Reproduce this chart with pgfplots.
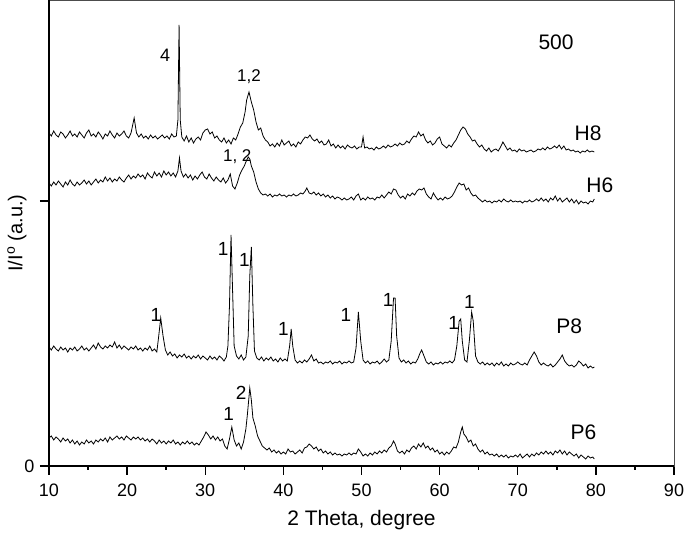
\documentclass[border=0pt]{standalone}
\usepackage{pgfplots}
\pgfplotsset{compat=1.18}
\usepackage{fontspec}
\setmainfont{Liberation Sans}
\newcommand\fs[1]{\fontsize{#1}{#1}\selectfont}
\pgfplotsset{xrd/.style={black, line width=0.8pt, mark=none}}

\begin{document}
\begin{tikzpicture}
\begin{axis}[
    scale only axis,
    width=625pt, height=466pt,
    xmin=10, xmax=90, ymin=0, ymax=466,
    xtick={10,20,...,90},
    minor xtick={15,25,...,85},
    ytick={0,265}, yticklabels={0,{}},
    tick align=outside,
    xtick pos=bottom, ytick pos=left,
    major tick length=9pt, minor tick length=4pt,
    tick style={black, line width=1.4pt},
    axis line style={line width=0.8pt, black!70},
    /pgf/number format/assume math mode=true,
    ticklabel style={font=\fs{18}},
    xticklabel style={yshift=-5pt},
    yticklabel style={xshift=-2pt},
    xlabel={2 Theta, degree},
    ylabel={I/I\textsuperscript{o} (a.u.)},
    xlabel style={font=\fs{21}, at={(axis description cs:0.5,0)}, anchor=center, yshift=-54pt},
    ylabel style={font=\fs{20}, at={(axis description cs:0,0.5)}, anchor=center, yshift=32pt},
    clip=false,
]
% H8
\addplot[xrd] coordinates {
(10.0,333) (10.3,330) (10.6,335) (10.9,331) (11.2,329) (11.5,334) (11.8,332) (12.1,328) (12.4,331) (12.7,335)
(13.0,330) (13.3,332) (13.6,329) (13.9,334) (14.2,331) (14.5,328) (14.8,333) (15.1,336) (15.4,330) (15.7,332)
(16.0,329) (16.3,334) (16.6,331) (16.9,327) (17.2,332) (17.5,330) (17.8,335) (18.1,331) (18.4,328) (18.7,333)
(19.0,330) (19.3,332) (19.6,335) (19.9,330) (20.2,328) (20.5,333) (20.9,348) (21.2,333) (21.5,329) (21.8,332)
(22.1,328) (22.4,330) (22.7,327) (23.0,331) (23.3,328) (23.6,330) (23.9,327) (24.2,329) (24.5,331) (24.8,328)
(25.1,330) (25.4,327) (25.7,332) (26.0,329) (26.3,330) (26.5,346) (26.65,441) (26.8,346) (27.0,329) (27.3,325)
(27.6,330) (27.9,324) (28.2,328) (28.5,323) (28.8,327) (29.1,329) (29.4,326) (29.7,333) (30.0,336) (30.3,337)
(30.6,332) (30.9,334) (31.2,328) (31.5,330) (31.8,326) (32.1,324) (32.4,328) (32.7,323) (33.0,326) (33.3,322)
(33.6,328) (33.9,326) (34.2,332) (34.5,339) (34.8,343) (35.1,354) (35.3,366) (35.6,374) (35.9,364) (36.2,356)
(36.5,344) (36.8,336) (37.1,338) (37.4,330) (37.7,326) (38.0,324) (38.3,320) (38.6,322) (38.9,319) (39.2,323)
(39.5,320) (39.8,326) (40.1,321) (40.4,323) (40.7,325) (41.0,320) (41.3,322) (41.6,319) (41.9,324) (42.2,322)
(42.5,326) (42.8,329) (43.1,328) (43.4,331) (43.7,327) (44.0,325) (44.3,327) (44.6,323) (44.9,325) (45.2,321)
(45.5,322) (45.8,326) (46.1,320) (46.4,322) (46.7,318) (47.0,321) (47.3,318) (47.6,320) (47.9,317) (48.2,321)
(48.5,319) (48.8,318) (49.1,320) (49.4,317) (49.7,319) (50.0,319) (50.2,329) (50.4,318) (50.7,319) (51.0,317)
(51.3,318) (51.6,316) (51.9,319) (52.2,317) (52.5,318) (52.8,320) (53.1,318) (53.4,321) (53.7,319) (54.0,320)
(54.3,322) (54.6,320) (54.9,323) (55.2,321) (55.5,322) (55.8,325) (56.1,323) (56.4,327) (56.7,330) (57.0,329)
(57.3,334) (57.6,330) (57.9,332) (58.2,326) (58.5,323) (58.8,325) (59.1,321) (59.4,323) (59.7,327) (60.0,329)
(60.3,322) (60.6,320) (60.9,318) (61.2,321) (61.5,319) (61.8,323) (62.1,326) (62.4,331) (62.7,336) (63.0,339)
(63.3,337) (63.6,332) (63.9,329) (64.2,325) (64.5,326) (64.8,322) (65.1,319) (65.4,321) (65.7,317) (66.0,315)
(66.3,318) (66.6,314) (66.9,316) (67.2,317) (67.5,315) (67.8,319) (68.1,324) (68.4,320) (68.7,316) (69.0,318)
(69.3,315) (69.6,316) (69.9,314) (70.2,317) (70.5,315) (70.8,316) (71.1,314) (71.4,315) (71.7,316) (72.0,314)
(72.3,315) (72.6,317) (72.9,316) (73.2,318) (73.5,316) (73.8,319) (74.1,317) (74.4,318) (74.7,320) (75.0,318)
(75.3,321) (75.6,317) (75.9,320) (76.2,316) (76.5,317) (76.8,315) (77.1,316) (77.4,314) (77.7,315) (78.0,313)
(78.3,315) (78.6,314) (78.9,316) (79.2,314) (79.5,315) (79.8,314)
};
% H6
\addplot[xrd] coordinates {
(10.0,283) (10.3,280) (10.6,284) (10.9,281) (11.2,285) (11.5,282) (11.8,279) (12.1,284) (12.4,281) (12.7,286)
(13.0,282) (13.3,280) (13.6,284) (13.9,281) (14.2,283) (14.5,286) (14.8,282) (15.1,285) (15.4,281) (15.7,284)
(16.0,287) (16.3,283) (16.6,286) (16.9,284) (17.2,289) (17.5,285) (17.8,288) (18.1,284) (18.4,287) (18.7,285)
(19.0,289) (19.3,286) (19.6,284) (19.9,288) (20.2,291) (20.5,287) (20.8,290) (21.1,288) (21.4,292) (21.7,289)
(22.0,291) (22.3,287) (22.6,293) (22.9,290) (23.2,288) (23.5,294) (23.8,290) (24.1,293) (24.4,289) (24.7,295)
(25.0,291) (25.3,294) (25.6,290) (25.9,293) (26.2,289) (26.5,295) (26.7,308) (26.9,295) (27.2,289) (27.5,292)
(27.8,288) (28.1,291) (28.4,286) (28.7,290) (29.0,287) (29.3,291) (29.6,294) (29.9,289) (30.2,287) (30.5,292)
(30.8,288) (31.1,285) (31.4,289) (31.7,286) (32.0,284) (32.3,288) (32.6,283) (32.9,286) (33.2,292) (33.5,280)
(33.8,277) (34.1,283) (34.4,291) (34.7,296) (35.0,300) (35.2,304) (35.5,309) (35.7,307) (35.9,300) (36.2,294)
(36.5,284) (36.8,277) (37.1,273) (37.4,271) (37.7,272) (38.0,270) (38.3,272) (38.6,269) (38.9,271) (39.2,270)
(39.5,272) (39.8,270) (40.1,271) (40.4,269) (40.7,271) (41.0,270) (41.3,272) (41.6,270) (41.9,271) (42.2,273)
(42.5,272) (42.8,275) (43.0,278) (43.3,273) (43.6,272) (43.9,274) (44.2,271) (44.5,273) (44.8,270) (45.1,272)
(45.4,269) (45.7,271) (46.0,268) (46.3,270) (46.6,267) (46.9,269) (47.2,268) (47.5,266) (47.8,268) (48.1,266)
(48.4,267) (48.7,269) (49.0,266) (49.3,270) (49.6,272) (49.9,266) (50.2,268) (50.5,266) (50.8,269) (51.1,267)
(51.4,268) (51.7,266) (52.0,269) (52.3,268) (52.6,271) (52.9,268) (53.2,271) (53.5,274) (53.8,272) (54.1,277)
(54.4,276) (54.7,271) (55.0,268) (55.3,270) (55.6,267) (55.9,272) (56.2,270) (56.5,273) (56.8,271) (57.1,275)
(57.4,277) (57.7,276) (58.0,278) (58.3,272) (58.6,269) (58.9,267) (59.2,273) (59.5,269) (59.8,266) (60.1,268)
(60.4,266) (60.7,269) (61.0,267) (61.3,268) (61.6,270) (61.9,274) (62.2,279) (62.5,283) (62.8,281) (63.1,282)
(63.4,276) (63.7,278) (64.0,273) (64.3,270) (64.6,271) (64.9,268) (65.2,266) (65.5,264) (65.8,266) (66.1,264)
(66.4,265) (66.7,263) (67.0,265) (67.3,264) (67.6,266) (67.9,264) (68.2,267) (68.5,265) (68.8,264) (69.1,266)
(69.4,264) (69.7,265) (70.0,264) (70.3,265) (70.6,263) (70.9,265) (71.2,264) (71.5,266) (71.8,264) (72.1,265)
(72.4,267) (72.7,265) (73.0,268) (73.3,265) (73.6,267) (73.9,264) (74.2,268) (74.5,266) (74.8,270) (75.1,265)
(75.4,268) (75.7,264) (76.0,266) (76.3,268) (76.6,264) (76.9,267) (77.2,263) (77.5,266) (77.8,262) (78.1,265)
(78.4,263) (78.7,264) (79.0,262) (79.3,265) (79.6,264) (79.8,267)
};
% P8
\addplot[xrd] coordinates {
(10.0,119) (10.3,116) (10.6,120) (10.9,117) (11.2,115) (11.5,119) (11.8,116) (12.1,118) (12.4,114) (12.7,118)
(13.0,116) (13.3,119) (13.6,115) (13.9,117) (14.2,120) (14.5,116) (14.8,118) (15.1,115) (15.4,118) (15.7,121)
(16.0,117) (16.3,123) (16.6,119) (16.9,117) (17.2,120) (17.5,118) (17.8,121) (18.1,119) (18.4,124) (18.7,118)
(19.0,121) (19.3,117) (19.6,120) (19.9,118) (20.2,116) (20.5,119) (20.8,117) (21.1,120) (21.4,116) (21.7,118)
(22.0,115) (22.3,118) (22.6,116) (22.9,120) (23.2,115) (23.5,117) (23.8,114) (24.0,127) (24.3,148) (24.6,130)
(24.9,116) (25.2,111) (25.5,114) (25.8,110) (26.1,112) (26.4,108) (26.7,111) (27.0,109) (27.3,112) (27.6,108)
(27.9,110) (28.2,107) (28.5,110) (28.8,108) (29.1,111) (29.4,107) (29.7,110) (30.0,108) (30.3,106) (30.6,110)
(30.9,107) (31.2,109) (31.5,106) (31.8,110) (32.1,108) (32.4,105) (32.7,109) (32.9,120) (33.1,160) (33.3,231)
(33.5,175) (33.7,120) (34.0,110) (34.3,107) (34.6,111) (34.9,106) (35.2,109) (35.5,130) (35.7,190) (35.9,219)
(36.1,160) (36.3,115) (36.6,108) (36.9,106) (37.2,109) (37.5,105) (37.8,108) (38.1,106) (38.4,109) (38.7,105)
(39.0,107) (39.3,104) (39.6,108) (39.9,105) (40.2,107) (40.5,105) (40.8,120) (41.0,137) (41.2,120) (41.5,106)
(41.8,103) (42.1,105) (42.4,103) (42.7,106) (43.0,104) (43.3,107) (43.6,111) (43.9,105) (44.2,107) (44.5,103)
(44.8,104) (45.1,102) (45.4,104) (45.7,103) (46.0,105) (46.3,102) (46.6,104) (46.9,103) (47.2,105) (47.5,102)
(47.8,104) (48.1,103) (48.4,105) (48.7,103) (49.0,104) (49.3,118) (49.6,154) (49.9,125) (50.2,106) (50.5,103)
(50.8,105) (51.1,102) (51.4,104) (51.7,103) (52.0,105) (52.3,102) (52.6,104) (52.9,107) (53.2,104) (53.5,106)
(53.8,125) (54.1,168) (54.3,168) (54.5,130) (54.8,108) (55.1,104) (55.4,106) (55.7,103) (56.0,105) (56.3,102)
(56.6,104) (56.9,103) (57.2,107) (57.5,113) (57.7,116) (58.0,110) (58.3,104) (58.6,102) (58.9,104) (59.2,101)
(59.5,103) (59.8,102) (60.1,104) (60.4,102) (60.7,104) (61.0,103) (61.3,105) (61.6,103) (61.9,106) (62.2,120)
(62.5,145) (62.7,147) (62.9,125) (63.2,106) (63.5,104) (63.8,125) (64.1,154) (64.3,145) (64.6,110) (64.9,104)
(65.2,102) (65.5,104) (65.8,101) (66.1,103) (66.4,101) (66.7,103) (67.0,100) (67.3,103) (67.6,101) (67.9,104)
(68.2,100) (68.5,102) (68.8,100) (69.1,103) (69.4,101) (69.7,102) (70.0,104) (70.3,102) (70.6,101) (70.9,103)
(71.2,101) (71.5,106) (71.8,110) (72.1,114) (72.4,110) (72.7,104) (73.0,101) (73.3,103) (73.6,101) (73.9,100)
(74.2,102) (74.5,99) (74.8,101) (75.1,104) (75.4,107) (75.7,111) (76.0,105) (76.3,102) (76.6,100) (76.9,101)
(77.2,99) (77.5,101) (77.8,105) (78.1,103) (78.4,100) (78.7,102) (79.0,98) (79.3,100) (79.6,98) (79.8,99)
};
% P6
\addplot[xrd] coordinates {
(10.0,28) (10.3,30) (10.6,26) (10.9,29) (11.2,27) (11.5,24) (11.8,28) (12.1,25) (12.4,27) (12.7,23)
(13.0,26) (13.3,22) (13.6,25) (13.9,21) (14.2,24) (14.5,22) (14.8,26) (15.1,23) (15.4,25) (15.7,22)
(16.0,26) (16.3,24) (16.6,27) (16.9,25) (17.2,28) (17.5,24) (17.8,29) (18.1,26) (18.4,28) (18.7,30)
(19.0,27) (19.3,29) (19.6,26) (19.9,30) (20.2,28) (20.5,26) (20.8,29) (21.1,27) (21.4,29) (21.7,26)
(22.0,28) (22.3,25) (22.6,27) (22.9,24) (23.2,27) (23.5,25) (23.8,22) (24.1,26) (24.4,23) (24.7,25)
(25.0,22) (25.3,25) (25.6,23) (25.9,26) (26.2,22) (26.5,24) (26.8,21) (27.1,24) (27.4,22) (27.7,25)
(28.0,22) (28.3,24) (28.6,21) (28.9,23) (29.2,21) (29.5,25) (29.8,29) (30.1,34) (30.4,31) (30.7,27)
(31.0,30) (31.3,26) (31.6,29) (31.9,25) (32.2,27) (32.5,20) (32.8,17) (33.1,27) (33.4,39) (33.7,26)
(34.0,20) (34.3,23) (34.6,17) (34.9,24) (35.2,37) (35.4,52) (35.7,78) (35.9,66) (36.1,48) (36.4,40)
(36.7,30) (37.0,25) (37.3,20) (37.6,18) (37.9,16) (38.2,18) (38.5,14) (38.8,16) (39.1,13) (39.4,15)
(39.7,12) (40.0,14) (40.3,12) (40.6,17) (40.9,14) (41.2,15) (41.5,12) (41.8,14) (42.1,16) (42.4,13)
(42.7,18) (43.0,19) (43.3,22) (43.6,20) (43.9,17) (44.2,19) (44.5,15) (44.8,17) (45.1,13) (45.4,15)
(45.7,12) (46.0,14) (46.3,11) (46.6,13) (46.9,11) (47.2,12) (47.5,10) (47.8,12) (48.1,11) (48.4,13)
(48.7,11) (49.0,13) (49.3,12) (49.6,17) (49.9,14) (50.2,10) (50.5,12) (50.8,10) (51.1,13) (51.4,11)
(51.7,14) (52.0,12) (52.3,15) (52.6,13) (52.9,16) (53.2,14) (53.5,18) (53.8,20) (54.1,25) (54.3,22)
(54.6,15) (54.9,13) (55.2,15) (55.5,12) (55.8,16) (56.1,14) (56.4,18) (56.7,20) (57.0,17) (57.3,22)
(57.6,19) (57.9,23) (58.2,18) (58.5,20) (58.8,16) (59.1,18) (59.4,14) (59.7,16) (60.0,12) (60.3,14)
(60.6,11) (60.9,14) (61.2,12) (61.5,15) (61.8,19) (62.1,18) (62.4,24) (62.7,34) (62.9,39) (63.1,32)
(63.4,29) (63.7,24) (64.0,26) (64.3,20) (64.6,22) (64.9,17) (65.2,14) (65.5,16) (65.8,12) (66.1,14)
(66.4,11) (66.7,12) (67.0,10) (67.3,12) (67.6,9) (67.9,11) (68.2,9) (68.5,11) (68.8,8) (69.1,10)
(69.4,9) (69.7,11) (70.0,9) (70.3,12) (70.6,8) (70.9,10) (71.2,12) (71.5,9) (71.8,12) (72.1,10)
(72.4,13) (72.7,11) (73.0,14) (73.3,12) (73.6,15) (73.9,12) (74.2,14) (74.5,11) (74.8,15) (75.1,13)
(75.4,16) (75.7,12) (76.0,15) (76.3,11) (76.6,14) (76.9,12) (77.2,10) (77.5,12) (77.8,8) (78.1,11)
(78.4,9) (78.7,7) (79.0,10) (79.3,8) (79.6,9) (79.8,7)
};
% frame: heavy left and bottom lines
\draw[line width=2.2pt, black] (rel axis cs:0,1) -- (rel axis cs:0,0) -- (rel axis cs:1,0);
% labels
\node[font=\fs{21}] at (axis cs:74.9,424) {500};
\node[font=\fs{21}] at (axis cs:79.0,333) {H8};
\node[font=\fs{21}] at (axis cs:80.5,281) {H6};
\node[font=\fs{21}] at (axis cs:76.6,140) {P8};
\node[font=\fs{21}] at (axis cs:78.4,34) {P6};
\node[font=\fs{18}] at (axis cs:24.85,411) {4};
\node[font=\fs{17}] at (axis cs:35.6,389) {1,2};
\node[font=\fs{17}] at (axis cs:34.1,309) {1, 2};
\node[font=\fs{19}] at (axis cs:23.7,151) {1};
\node[font=\fs{19}] at (axis cs:32.3,217) {1};
\node[font=\fs{19}] at (axis cs:35.0,206) {1};
\node[font=\fs{19}] at (axis cs:40.0,137) {1};
\node[font=\fs{19}] at (axis cs:48.0,151) {1};
\node[font=\fs{19}] at (axis cs:53.4,166) {1};
\node[font=\fs{19}] at (axis cs:61.8,143) {1};
\node[font=\fs{19}] at (axis cs:63.8,164) {1};
\node[font=\fs{19}] at (axis cs:33.0,52) {1};
\node[font=\fs{19}] at (axis cs:34.6,73) {2};
\end{axis}
\pgfresetboundingbox
\path (current axis.south west) ++(-49pt,-71pt) rectangle ++(685pt,537pt);
\end{tikzpicture}
\end{document}
